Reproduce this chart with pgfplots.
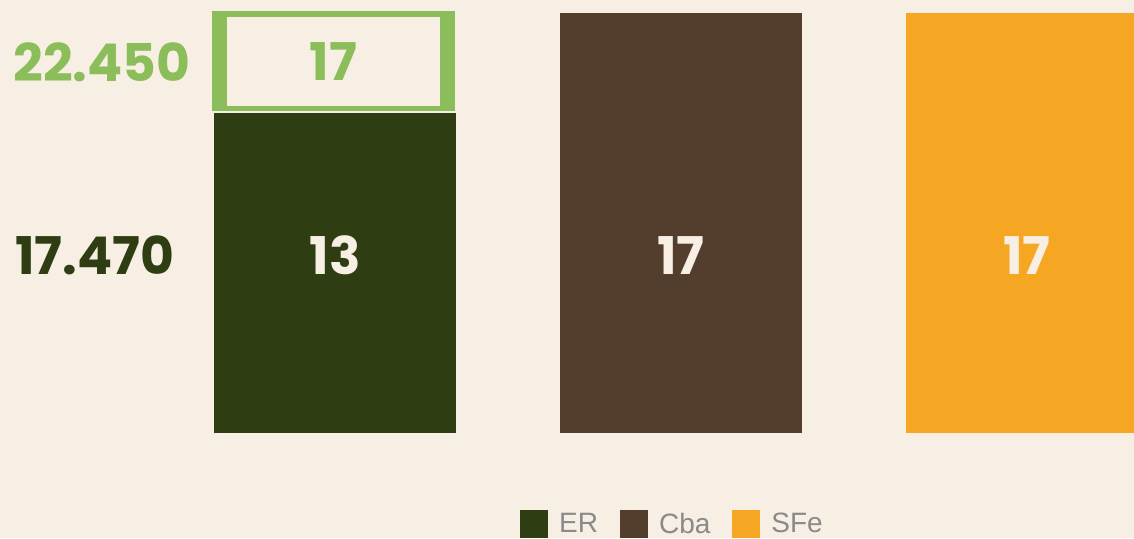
\documentclass[border=0pt]{standalone}
\usepackage{pgfplots}
\pgfplotsset{compat=1.18}
\usepackage{fontspec}
\setmainfont{Poppins}
\newfontfamily\legfont{Liberation Sans}
\definecolor{bgc}{HTML}{F7EFE3}
\definecolor{erc}{HTML}{2F3D13}
\definecolor{cbac}{HTML}{533D2C}
\definecolor{sfec}{HTML}{F5A623}
\definecolor{lgc}{HTML}{8BBD5A}
\definecolor{legtext}{HTML}{8A8A8A}
\tikzset{valnode/.style={font=\fontsize{52}{52}\selectfont\bfseries, inner sep=0pt}}

\begin{document}
\begin{tikzpicture}[x=1pt,y=1pt]
\fill[bgc] (0,0) rectangle (1134,538);
\useasboundingbox (0,0) rectangle (1134,538);
\begin{axis}[
  at={(0pt,105pt)}, anchor=south west,
  scale only axis, width=1134pt, height=433pt,
  xmin=-0.968, xmax=2.309, ymin=0, ymax=17.526,
  hide axis,
  legend columns=3,
  legend style={at={(axis description cs:0.593,-0.21)}, anchor=center,
    draw=none, fill=none,
    font=\legfont\fontsize{28}{28}\selectfont\color{legtext},
    /tikz/every odd column/.append style={column sep=9pt},
    /tikz/every even column/.append style={column sep=20pt}},
  legend image code/.code={\fill[#1, draw=none] (0pt,-14pt) rectangle (28pt,14pt);},
]
% outlined box on top of ER (layers)
\addplot[ybar, bar shift=-1.5pt, bar width=243pt, fill=lgc, draw=none, forget plot] coordinates {(0,17.07)};
\addplot[ybar, bar shift=-1.5pt, bar width=213pt, fill=bgc, draw=none, forget plot] coordinates {(0,16.83)};
\addplot[ybar, bar shift=-1.5pt, bar width=243pt, fill=lgc, draw=none, forget plot] coordinates {(0,13.24)};
\addplot[ybar, bar shift=0pt, bar width=246pt, fill=bgc, draw=none, forget plot] coordinates {(0,13.03)};
% bars
\addplot[ybar, bar shift=0pt, bar width=242pt, fill=erc, draw=none] coordinates {(0,12.95)};
\addplot[ybar, bar shift=0pt, bar width=242pt, fill=cbac, draw=none] coordinates {(1,17)};
\addplot[ybar, bar shift=0pt, bar width=242pt, fill=sfec, draw=none] coordinates {(2,17)};
\legend{ER, Cba, SFe}

\node[valnode, text=lgc] at (axis cs:-0.005,15.02) {17};
\node[valnode, text=bgc] at (axis cs:0,7.2) {13};
\node[valnode, text=bgc] at (axis cs:1,7.2) {17};
\node[valnode, text=bgc] at (axis cs:2,7.2) {17};
\node[valnode, text=lgc, anchor=west] at (axis cs:-0.93,15.02) {22.450};
\node[valnode, text=erc, anchor=west] at (axis cs:-0.925,7.2) {17.470};
\end{axis}
\end{tikzpicture}
\end{document}
